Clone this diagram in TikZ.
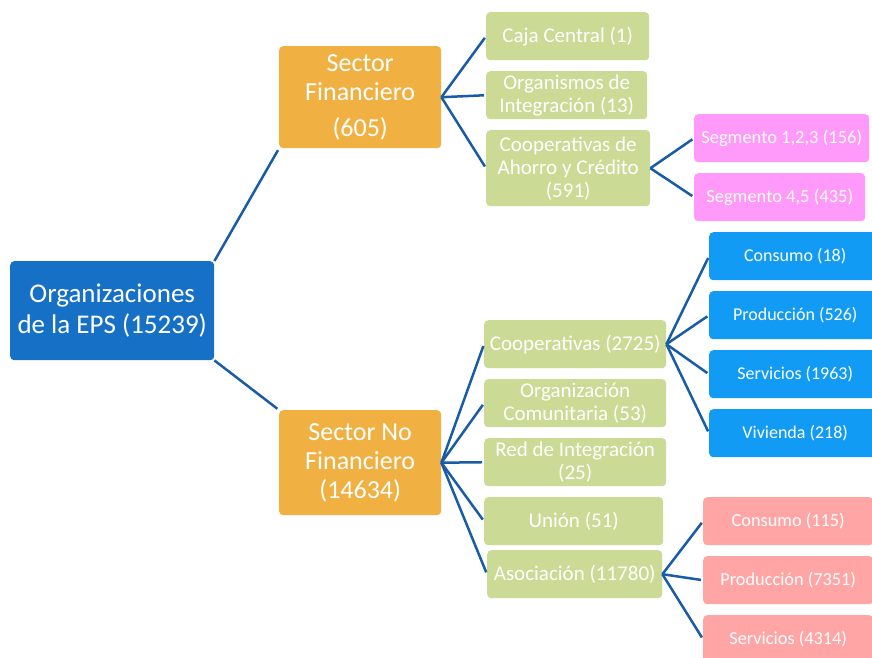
\documentclass[tikz,border=0pt]{standalone}
\usepackage{fontspec}
\setmainfont{Carlito}
\definecolor{rootblue}{RGB}{22,112,198}
\definecolor{secorange}{RGB}{240,177,66}
\definecolor{leafgreen}{RGB}{203,218,149}
\definecolor{segpink}{RGB}{255,153,250}
\definecolor{coopblue}{RGB}{17,155,245}
\definecolor{asocred}{RGB}{255,165,165}
\definecolor{linkblue}{RGB}{24,92,168}
\tikzset{
	box/.style={rounded corners=4pt, text=white, align=center, inner sep=0pt, anchor=north west},
	rootbox/.style={box, fill=rootblue, font=\fontsize{27}{31}\selectfont},
	secbox/.style={box, fill=secorange, font=\fontsize{26}{29}\selectfont},
	greenbox/.style={box, fill=leafgreen, font=\fontsize{21}{23}\selectfont},
	pinkbox/.style={box, fill=segpink, font=\fontsize{18.5}{21}\selectfont},
	bluebox/.style={box, fill=coopblue, font=\fontsize{18}{21}\selectfont},
	redbox/.style={box, fill=asocred, font=\fontsize{18.3}{21}\selectfont},
	link/.style={draw=linkblue, line width=2.5pt, shorten >=2pt},
}
\begin{document}
\begin{tikzpicture}[x=1pt, y=-1pt]
		\useasboundingbox (0,0) rectangle (872,657);
		\node[rootbox, minimum width=204pt, minimum height=99pt] (eps) at (10,261) {Organizaciones\\de la EPS (15239)};
		\node[secbox, minimum width=162pt, minimum height=102pt] (fin) at (279,46) {Sector\\Financiero\\[7pt](605)};
		\node[secbox, minimum width=162pt, minimum height=105pt] (nofin) at (279,410) {Sector No\\Financiero\\(14634)};

		\node[greenbox, minimum width=163pt, minimum height=48pt] (caja) at (486,12) {Caja Central (1)};
		\node[greenbox, minimum width=161pt, minimum height=48pt] (orgint) at (486,71) {Organismos de\\Integración (13)};
		\node[greenbox, minimum width=164pt, minimum height=76pt] (ahorro) at (486,130) {Cooperativas de\\Ahorro y Crédito\\(591)};
		\node[pinkbox, minimum width=175pt, minimum height=48pt] (seguno) at (694,114) {Segmento 1,2,3 (156)};
		\node[pinkbox, minimum width=171pt, minimum height=48pt] (segdos) at (694,173) {Segmento 4,5 (435)};

		\node[greenbox, minimum width=182pt, minimum height=48pt] (coop) at (484,320) {Cooperativas (2725)};
		\node[greenbox, minimum width=182pt, minimum height=48pt] (comun) at (484,379) {Organización\\Comunitaria (53)};
		\node[greenbox, minimum width=182pt, minimum height=48pt] (red) at (484,438) {Red de Integración\\(25)};
		\node[greenbox, minimum width=179pt, minimum height=48pt] (union) at (484,497) {Unión (51)};
		\node[greenbox, minimum width=175pt, minimum height=48pt] (asoc) at (487,550) {Asociación (11780)};

		\node[bluebox, minimum width=172pt, minimum height=48pt] (ccons) at (709,232) {Consumo (18)};
		\node[bluebox, minimum width=172pt, minimum height=48pt] (cprod) at (709,291) {Producción (526)};
		\node[bluebox, minimum width=172pt, minimum height=48pt] (cserv) at (709,350) {Servicios (1963)};
		\node[bluebox, minimum width=172pt, minimum height=48pt] (cviv) at (709,409) {Vivienda (218)};

		\node[redbox, minimum width=170pt, minimum height=48pt] (acons) at (703,497) {Consumo (115)};
		\node[redbox, minimum width=170pt, minimum height=48pt] (aprod) at (703,556) {Producción (7351)};
		\node[redbox, minimum width=170pt, minimum height=48pt] (aserv) at (703,615) {Servicios (4314)};

		\draw[link] (eps.north east) -- (fin.south west);
		\draw[link] (eps.south east) -- (nofin.north west);
		\foreach \kid in {caja, orgint, ahorro}
			\draw[link] (fin.east) -- (\kid.west);
		\foreach \kid in {seguno, segdos}
			\draw[link] (ahorro.east) -- (\kid.west);
		\foreach \kid in {coop, comun, red, union, asoc}
			\draw[link] (nofin.east) -- (\kid.west);
		\foreach \kid in {ccons, cprod, cserv, cviv}
			\draw[link] (coop.east) -- (\kid.west);
		\foreach \kid in {acons, aprod, aserv}
			\draw[link] (asoc.east) -- (\kid.west);
	\end{tikzpicture}
\end{document}
